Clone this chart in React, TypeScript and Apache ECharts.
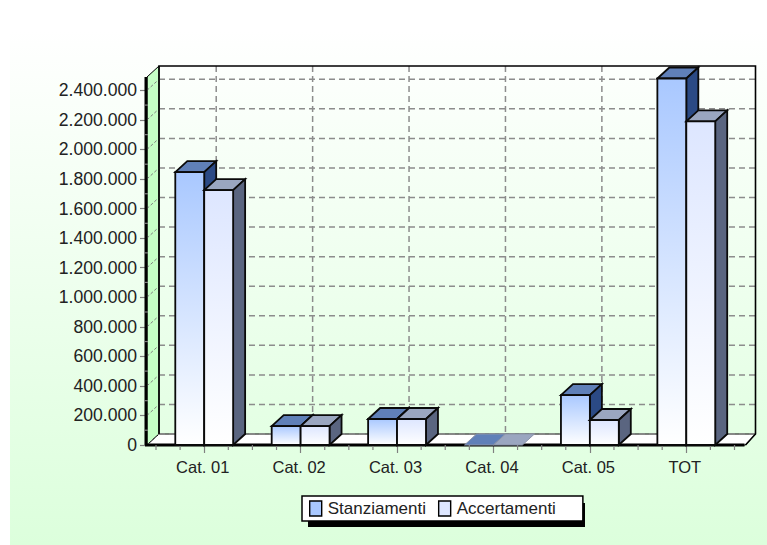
import React, { useEffect, useRef } from "react";
import * as echarts from "echarts";

const categories = ["Cat. 01", "Cat. 02", "Cat. 03", "Cat. 04", "Cat. 05", "TOT"];
const stanziamenti = [1846000, 128000, 176000, 0, 338000, 2480000];
const accertamenti = [1724000, 128000, 176000, 0, 169000, 2190000];
const majorTicks = [0, 200000, 400000, 600000, 800000, 1000000, 1200000, 1400000, 1600000, 1800000, 2000000, 2200000, 2400000];
const minorTicks = [100000, 300000, 500000, 700000, 900000, 1100000, 1300000, 1500000, 1700000, 1900000, 2100000, 2300000];
const AXIS_MAX = 2490000;
const DX = 12;
const DY = -11;
const FONT = "Liberation Sans";

const fmt = (v: number) => String(v).replace(/\B(?=(\d{3})+(?!\d))/g, ".");

function barItem(colors: string[], side: number) {
  return (params: any, api: any) => {
    const idx = api.value(0);
    const val = api.value(1);
    const [cx, y0] = api.coord([idx, 0]);
    const [, y1] = api.coord([idx, val]);
    const w = api.size([1, 0])[0] * 0.3;
    const x0 = side < 0 ? cx - w : cx;
    const x1 = x0 + w;
    const flat = y0 - y1 < 1;
    const edge = flat
      ? { stroke: "#8a93a8", lineWidth: 1 }
      : { stroke: "#0a0a0a", lineWidth: 1.8 };
    const children: any[] = [];
    children.push({
      type: "polygon",
      shape: { points: [[x0, y1], [x0 + DX, y1 + DY], [x1 + DX, y1 + DY], [x1, y1]] },
      style: { fill: colors[1], ...edge },
    });
    if (!flat) {
      children.push({
        type: "polygon",
        shape: { points: [[x1, y1], [x1 + DX, y1 + DY], [x1 + DX, y0 + DY], [x1, y0]] },
        style: { fill: colors[2], ...edge },
      });
      children.push({
        type: "rect",
        shape: { x: x0, y: y1, width: w, height: y0 - y1 },
        style: {
          fill: new echarts.graphic.LinearGradient(0, 0, 0, 1, [
            { offset: 0, color: colors[0] },
            { offset: 1, color: "#ffffff" },
          ]),
          ...edge,
        },
      });
    }
    return { type: "group", children };
  };
}

function frameItem(params: any, api: any) {
  const [xl0, y0] = api.coord([0, 0]);
  const band = api.size([1, 0])[0];
  const [, yTop] = api.coord([0, AXIS_MAX]);
  const axisL = xl0 - band / 2 - 9;
  const axisR = xl0 + band * 5.5 + 11;
  const firstTick = xl0 - band / 2;
  const c: any[] = [];
  c.push({
    type: "polygon",
    shape: { points: [[axisL, y0], [axisL, yTop], [axisL + DX, yTop + DY], [axisL + DX, y0 + DY]] },
    style: { fill: "#c6ffc6", stroke: "#000", lineWidth: 1 },
  });
  c.push({
    type: "polygon",
    shape: { points: [[axisL, y0], [axisL + DX, y0 + DY], [axisR + DX - 2, y0 + DY], [axisR, y0]] },
    style: { fill: "#ffffff", stroke: "#000", lineWidth: 1 },
  });
  const dash = { stroke: "#8c8c8c", lineWidth: 1.5, lineDash: [6, 4] };
  majorTicks.forEach((t) => {
    const y = api.coord([0, t])[1];
    c.push({ type: "line", shape: { x1: axisL + DX, y1: y + DY, x2: axisR + DX - 2, y2: y + DY }, style: dash });
    c.push({ type: "line", shape: { x1: axisL, y1: y, x2: axisL + DX, y2: y + DY }, style: { stroke: "#808080", lineWidth: 1, lineDash: [3, 2] } });
  });
  categories.forEach((_, i) => {
    const x = xl0 + band * i + DX;
    c.push({ type: "line", shape: { x1: x, y1: yTop + DY, x2: x, y2: y0 + DY }, style: dash });
  });
  c.push({
    type: "polyline",
    shape: { points: [[axisL + DX, y0 + DY], [axisL + DX, yTop + DY], [axisR + DX - 2, yTop + DY], [axisR + DX - 2, y0 + DY], [axisR, y0]] },
    style: { fill: "none", stroke: "#000", lineWidth: 1.6 },
  });
  c.push({ type: "line", shape: { x1: axisL - 2, y1: y0, x2: axisR - 1, y2: y0 }, style: { stroke: "#000", lineWidth: 3 } });
  c.push({ type: "line", shape: { x1: axisL - 1, y1: y0, x2: axisL - 1, y2: yTop }, style: { stroke: "#000", lineWidth: 3 } });
  minorTicks.forEach((t) => {
    const y = api.coord([0, t])[1];
    c.push({ type: "line", shape: { x1: axisL - 3, y1: y, x2: axisL + 1, y2: y }, style: { stroke: "#808080", lineWidth: 1.2 } });
  });
  for (let k = 0; k <= 24; k++) {
    if (k % 4 === 2) continue;
    const x = firstTick + (band * k) / 4;
    c.push({ type: "line", shape: { x1: x, y1: y0, x2: x, y2: y0 + 5 }, style: { stroke: "#808080", lineWidth: 1.2 } });
  }
  return { type: "group", children: c };
}

export default function App() {
  const ref = useRef<HTMLDivElement>(null);
  useEffect(() => {
    document.body.style.margin = "0";
    const chart = echarts.init(ref.current!, null, { renderer: "svg" });
    chart.setOption({
      animation: false,
      backgroundColor: "#ffffff",
      textStyle: { fontFamily: FONT },
      graphic: [
        {
          type: "rect",
          z: -10,
          silent: true,
          shape: { x: 10, y: 30, width: 757, height: 515 },
          style: {
            fill: new echarts.graphic.LinearGradient(0, 0, 0, 1, [
              { offset: 0, color: "#ffffff" },
              { offset: 1, color: "#dcffdc" },
            ]),
          },
        },
        {
          type: "rect",
          z: 1,
          silent: true,
          shape: { x: 308, y: 503, width: 277, height: 24 },
          style: { fill: "#000" },
        },
      ],
      grid: { left: 156, right: 32.5, top: 77, bottom: 100 },
      xAxis: {
        type: "category",
        data: categories,
        axisLine: { show: false },
        axisTick: { show: true, alignWithLabel: true, length: 8, lineStyle: { color: "#808080", width: 1.2 } },
        axisLabel: { color: "#222", fontSize: 16.5, margin: 13, fontFamily: FONT, padding: [0, 3, 0, 0] },
        splitLine: { show: false },
      },
      yAxis: {
        type: "value",
        min: 0,
        max: AXIS_MAX,
        interval: 200000,
        offset: 9,
        axisLine: { show: false },
        axisTick: { show: true, customValues: majorTicks, length: 7, lineStyle: { color: "#808080", width: 1.2 } },
        axisLabel: {
          color: "#222",
          fontSize: 17.6,
          margin: 10,
          fontFamily: FONT,
          customValues: majorTicks,
          formatter: (v: number) => fmt(v),
        },
        splitLine: { show: false },
      },
      legend: {
        left: 302,
        top: 496,
        z: 5,
        padding: [4, 27, 4, 7],
        itemGap: 12,
        itemWidth: 12,
        itemHeight: 15,
        icon: "rect",
        backgroundColor: "#ffffff",
        borderColor: "#000",
        borderWidth: 1.5,
        textStyle: { color: "#222", fontSize: 17, fontFamily: FONT, padding: [0, 0, 0, 1] },
        itemStyle: { borderColor: "#000", borderWidth: 1.4 },
        data: [
          { name: "Stanziamenti", itemStyle: { color: "#a9c8ff" } },
          { name: "Accertamenti", itemStyle: { color: "#dde6ff" } },
        ],
      },
      series: [
        {
          type: "custom",
          name: "frame",
          z: 1,
          silent: true,
          renderItem: frameItem,
          data: [[0, 0]],
          encode: { x: 0, y: 1 },
        },
        {
          type: "custom",
          name: "Stanziamenti",
          z: 2,
          renderItem: barItem(["#a9c8ff", "#6080b8", "#2b4a85"], -1),
          data: stanziamenti.map((v, i) => [i, v]),
          encode: { x: 0, y: 1 },
        },
        {
          type: "custom",
          name: "Accertamenti",
          z: 3,
          renderItem: barItem(["#dde6ff", "#9aa6c0", "#5a6580"], 1),
          data: accertamenti.map((v, i) => [i, v]),
          encode: { x: 0, y: 1 },
        },
      ],
    });
    return () => chart.dispose();
  }, []);
  return <div ref={ref} style={{ width: 767, height: 545 }} />;
}
